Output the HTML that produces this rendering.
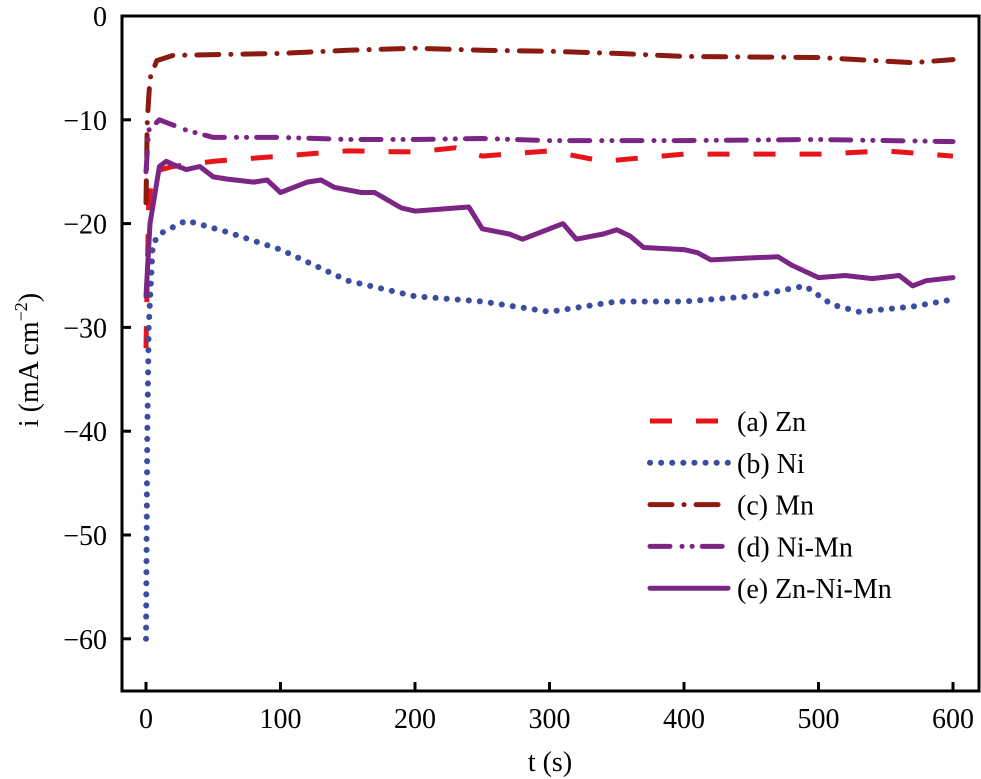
<!DOCTYPE html>
<html><head><meta charset="utf-8"><style>
body{margin:0;background:#fff}
svg{display:block;font-family:"Liberation Serif",serif}
</style></head><body>
<svg id="chart" width="981" height="779">
<rect x="122" y="16" width="857" height="675" fill="none" stroke="#000" stroke-width="3"/>
<g id="axes"></g>
<g id="series"></g>
<text x="38" y="360" font-size="28" text-anchor="middle" transform="rotate(-90 38 360)">i (mA cm<tspan font-size="18" dy="-11">−2</tspan><tspan dy="11">)</tspan></text>
<text x="550" y="771" font-size="28" text-anchor="middle">t (s)</text>
<g id="legend"></g>
</svg>
<script>
const xTicks=[0,100,200,300,400,500,600];
const yTicks=[0,-10,-20,-30,-40,-50,-60];
const seriesNames=["(a) Zn","(b) Ni","(c) Mn","(d) Ni-Mn","(e) Zn-Ni-Mn"];
const znT=[0,1,2,5,20,50,100,150,200,230,250,300,340,400,500,550,600];
const znV=[-32,-25,-18,-15,-14.5,-14,-13.5,-13,-13.1,-12.7,-13.5,-13,-14,-13.3,-13.3,-13,-13.5];
const niT=[0,1,2,5,10,30,60,100,150,200,250,300,350,400,450,490,510,530,570,600];
const niV=[-60,-40,-30,-22,-21,-19.7,-20.8,-22.5,-25.5,-27,-27.5,-28.5,-27.5,-27.5,-27,-26,-27.8,-28.5,-28,-27.3];
const mnT=[0,1,3,8,20,100,150,200,250,300,350,400,500,570,600];
const mnV=[-18,-10,-6,-4.3,-3.8,-3.6,-3.3,-3.1,-3.3,-3.4,-3.6,-3.9,-4,-4.5,-4.2];
const nimnT=[0,2,10,30,50,100,150,200,250,300,400,500,600];
const nimnV=[-15,-11,-10,-11,-11.7,-11.7,-11.9,-11.9,-11.8,-12,-12,-11.9,-12.1];
const znnimnT=[0,3,10,15,20,30,40,50,60,80,90,100,120,130,140,160,170,190,200,230,240,250,270,280,300,310,320,340,350,360,370,400,410,420,450,470,480,500,520,540,560,570,580,600];
const znnimnV=[-27,-20,-14.5,-14,-14.3,-14.8,-14.5,-15.5,-15.7,-16,-15.8,-17,-16,-15.8,-16.5,-17,-17,-18.5,-18.8,-18.5,-18.4,-20.5,-21,-21.5,-20.5,-20,-21.5,-21,-20.6,-21.2,-22.3,-22.5,-22.8,-23.5,-23.3,-23.2,-24,-25.2,-25,-25.3,-25,-26,-25.5,-25.2];
const X=t=>146+t*1.345;
const Y=v=>16-v*10.38;
const ns="http://www.w3.org/2000/svg";
function mk(tag,attrs,parent){const e=document.createElementNS(ns,tag);for(const k in attrs)e.setAttribute(k,attrs[k]);parent.appendChild(e);return e;}
const axes=document.getElementById('axes');
xTicks.forEach(t=>{
 const l=mk('line',{x1:X(t),x2:X(t),y1:691,y2:682,stroke:'#000','stroke-width':3},axes);
 
 
 const tx=mk('text',{x:X(t),y:728,'font-size':28,'text-anchor':'middle'},axes);tx.textContent=t;
 
 
});
yTicks.forEach(v=>{
 const l=mk('line',{x1:122,x2:131,y1:Y(v),y2:Y(v),stroke:'#000','stroke-width':3},axes);
 
 
 const tx=mk('text',{x:107,y:Y(v)+10,'font-size':28,'text-anchor':'end'},axes);tx.textContent=v<0?'−'+(-v):v;
 
 
});
const styles=[
 {c:'#e8141c',d:'22 24',cap:'butt',w:5},
 {c:'#3a4da0',d:'0.1 11',cap:'round',w:6},
 {c:'#8b1a10',d:'22 12 0.1 12',cap:'round',w:5},
 {c:'#7b2585',d:'20 12 0.1 10 0.1 10',cap:'round',w:5},
 {c:'#7b2585',d:'',cap:'round',w:5}];
const data=[[znT,znV],[niT,niV],[mnT,mnV],[nimnT,nimnV],[znnimnT,znnimnV]];
const sg=document.getElementById('series');
const keys=['zn','ni','mn','ni-mn','zn-ni-mn'];
data.forEach((s,i)=>{
 const d=s[0].map((t,j)=>(j?'L':'M')+X(t).toFixed(1)+','+Y(s[1][j]).toFixed(1)).join('');
 const p=mk('path',{d:d,fill:'none',stroke:styles[i].c,'stroke-width':styles[i].w,'stroke-dasharray':styles[i].d,'stroke-linecap':styles[i].cap,'stroke-linejoin':'round'},sg);
 
 
});
const lg=document.getElementById('legend');
seriesNames.forEach((n,i)=>{
 const y=421+i*41.8;
 const l=mk('line',{x1:650,x2:728,y1:y,y2:y,stroke:styles[i].c,'stroke-width':styles[i].w,'stroke-dasharray':styles[i].d,'stroke-linecap':styles[i].cap},lg);
 
 
 const t=mk('text',{x:737,y:y+10,'font-size':28},lg);t.textContent=n;
 
 
});
</script>
</body></html>
